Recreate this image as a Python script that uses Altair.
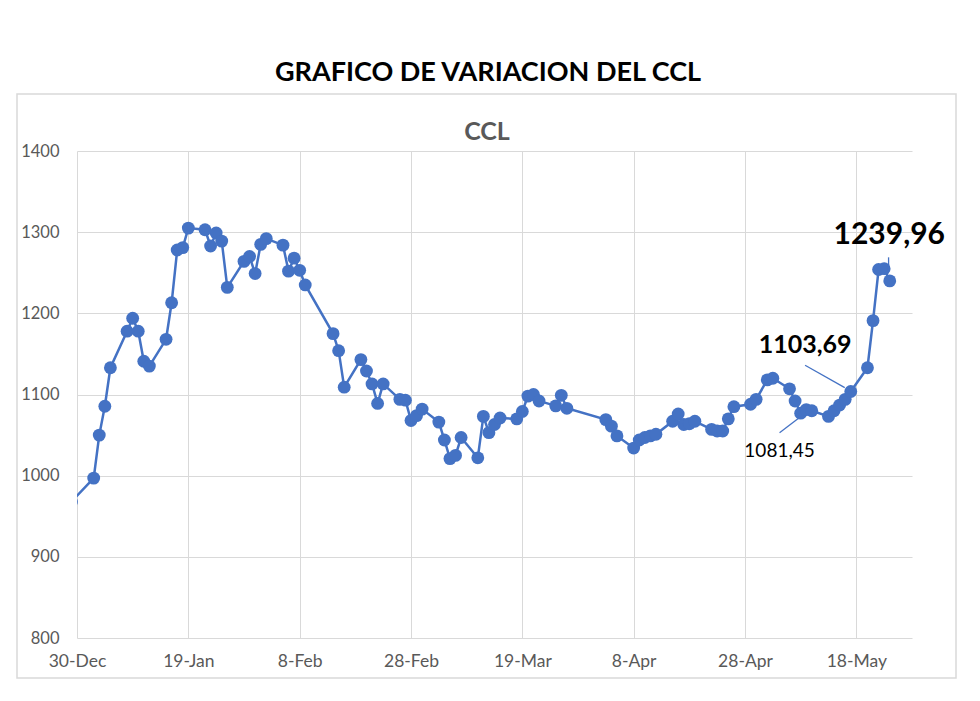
import altair as alt
import pandas as pd

# ---- data ----
dates = [
    "2023-12-29",
    "2024-01-02", "2024-01-03", "2024-01-04", "2024-01-05",
    "2024-01-08", "2024-01-09", "2024-01-10", "2024-01-11", "2024-01-12",
    "2024-01-15", "2024-01-16", "2024-01-17", "2024-01-18", "2024-01-19",
    "2024-01-22", "2024-01-23", "2024-01-24", "2024-01-25", "2024-01-26",
    "2024-01-29", "2024-01-30", "2024-01-31", "2024-02-01", "2024-02-02",
    "2024-02-05", "2024-02-06", "2024-02-07", "2024-02-08", "2024-02-09",
    "2024-02-14", "2024-02-15", "2024-02-16",
    "2024-02-19", "2024-02-20", "2024-02-21", "2024-02-22", "2024-02-23",
    "2024-02-26", "2024-02-27", "2024-02-28", "2024-02-29", "2024-03-01",
    "2024-03-04", "2024-03-05", "2024-03-06", "2024-03-07", "2024-03-08",
    "2024-03-11", "2024-03-12", "2024-03-13", "2024-03-14", "2024-03-15",
    "2024-03-18", "2024-03-19", "2024-03-20", "2024-03-21", "2024-03-22",
    "2024-03-25", "2024-03-26", "2024-03-27",
    "2024-04-03", "2024-04-04", "2024-04-05",
    "2024-04-08", "2024-04-09", "2024-04-10", "2024-04-11", "2024-04-12",
    "2024-04-15", "2024-04-16", "2024-04-17", "2024-04-18", "2024-04-19",
    "2024-04-22", "2024-04-23", "2024-04-24", "2024-04-25", "2024-04-26",
    "2024-04-29", "2024-04-30", "2024-05-02", "2024-05-03",
    "2024-05-06", "2024-05-07", "2024-05-08", "2024-05-09", "2024-05-10",
    "2024-05-13", "2024-05-14", "2024-05-15", "2024-05-16", "2024-05-17",
    "2024-05-20", "2024-05-21", "2024-05-22", "2024-05-23", "2024-05-24",
]
values = [
    968,
    997, 1050, 1085.5, 1133,
    1178, 1194, 1178, 1141, 1135,
    1168, 1213, 1278, 1281, 1305,
    1303, 1283, 1299, 1289, 1232,
    1264, 1270, 1249, 1285, 1292,
    1284, 1252, 1268, 1253, 1235,
    1175, 1154, 1109,
    1143, 1129, 1113, 1089, 1113,
    1094, 1093, 1068, 1074, 1082,
    1066, 1044, 1021, 1025, 1047,
    1022, 1073, 1053, 1063, 1071,
    1070, 1079, 1098, 1100, 1092,
    1086, 1099, 1083,
    1069, 1061, 1049,
    1034, 1044, 1047, 1049, 1051,
    1067, 1076, 1063, 1064, 1067,
    1057, 1055, 1055, 1070, 1085,
    1088, 1094, 1118, 1120,
    1107, 1092, 1077, 1081.45, 1080,
    1073, 1080, 1087, 1094, 1103.69,
    1133, 1191, 1254, 1255, 1239.96,
]

tick_dates = ["2023-12-30", "2024-01-19", "2024-02-08", "2024-02-28",
              "2024-03-19", "2024-04-08", "2024-04-28", "2024-05-18"]
y_ticks = [800, 900, 1000, 1100, 1200, 1300, 1400]

ann_labels = ["1239,96", "1103,69", "1081,45"]
ann_dates = ["2024-05-23T22:00:00Z", "2024-05-08T19:00:00Z", "2024-05-04T05:00:00Z"]
ann_values = [1297, 1161, 1030]

lead_d1 = ["2024-05-23T19:00:00Z", "2024-05-08T19:00:00Z", "2024-05-04T05:00:00Z"]
lead_v1 = [1269, 1136, 1053]
lead_d2 = ["2024-05-23T19:00:00Z", "2024-05-15T22:00:00Z", "2024-05-07T19:00:00Z"]
lead_v2 = [1251, 1108.5, 1071.6]

# ---- chart ----
FONT = "Lato"
BLUE = "#4472C4"
GREY = "#595959"


def dt(s):
    y, m, d = (int(p) for p in s.split("-"))
    return alt.DateTime(year=y, month=m, date=d, utc=True)


df = pd.DataFrame({"date": dates, "ccl": values})

x_scale = alt.Scale(type="utc", domain=[dt("2023-12-30"), dt("2024-05-28")])
y_scale = alt.Scale(domain=[800, 1400], nice=False, zero=False)

x_enc = alt.X(
    "date:T", scale=x_scale, title=None,
    axis=alt.Axis(values=[dt(t) for t in tick_dates],
                  labelExpr="utcFormat(datum.value, '%-d-%b')",
                  labelFlush=False, labelOverlap=False, labelAlign="center",
                  grid=True, gridColor="#d9d9d9", gridWidth=1,
                  domain=False, ticks=False, labelPadding=14,
                  labelFont=FONT, labelFontSize=17.5, labelColor=GREY),
)
y_enc = alt.Y(
    "ccl:Q", scale=y_scale, title=None,
    axis=alt.Axis(values=y_ticks, format="d", grid=True, gridColor="#d9d9d9", gridWidth=1,
                  domain=False, ticks=False, labelPadding=18,
                  labelFont=FONT, labelFontSize=16.5, labelColor=GREY),
)

base = alt.Chart(df)
line = base.mark_line(color=BLUE, strokeWidth=2.5, clip=True).encode(x=x_enc, y=y_enc)
pts = base.mark_circle(color=BLUE, size=165, opacity=1, clip=True).encode(
    x="date:T", y="ccl:Q")

one = alt.Chart(pd.DataFrame({"k": [0]}))
frame = one.mark_rect(fill="white", fillOpacity=0, stroke="#d9d9d9", strokeWidth=1.5).encode(
    x=alt.value(-60), x2=alt.value(879), y=alt.value(-57), y2=alt.value(527))
title1 = one.mark_text(font=FONT, fontSize=27, fontWeight="bold", color="black",
                       baseline="middle", align="center").encode(
    x=alt.value(411), y=alt.value(-78), text=alt.value("GRAFICO DE VARIACION DEL CCL"))
title2 = one.mark_text(font=FONT, fontSize=25, fontWeight="bold", color=GREY,
                       baseline="middle", align="center").encode(
    x=alt.value(410), y=alt.value(-19), text=alt.value("CCL"))

lead_df = pd.DataFrame({"d1": lead_d1, "v1": lead_v1, "d2": lead_d2, "v2": lead_v2})
leaders = alt.Chart(lead_df).mark_rule(color=BLUE, strokeWidth=1.3).encode(
    x="d1:T", x2="d2:T", y="v1:Q", y2="v2:Q")

ann_sizes = [30, 25, 19]
ann_weights = ["bold", "bold", "normal"]
ann_layers = []
for lab, d, v, fs, fw in zip(ann_labels, ann_dates, ann_values, ann_sizes, ann_weights):
    adf = pd.DataFrame({"date": [d], "ccl": [v], "label": [lab]})
    ann_layers.append(
        alt.Chart(adf).mark_text(font=FONT, fontSize=fs, fontWeight=fw, color="black",
                                 baseline="middle", align="center").encode(
            x="date:T", y="ccl:Q", text="label:N"))

chart = alt.layer(frame, line, pts, leaders, *ann_layers, title1, title2).properties(
    width=835, height=487,
    autosize=alt.AutoSizeParams(type="none"),
    padding={"left": 77, "top": 151, "right": 68, "bottom": 63},
    background="white",
).configure_view(stroke=None)

chart.save("out.html", embed_options={"renderer": "svg", "actions": False})
